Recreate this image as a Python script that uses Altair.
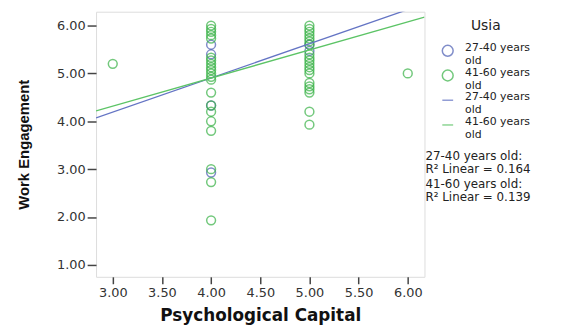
import altair as alt
import pandas as pd

# ---- data ----
groups = ["27-40 years old", "41-60 years old"]

young_pc = [4.0, 4.0, 4.0, 4.0, 5.0, 5.0]
young_we = [5.60, 5.40, 4.33, 2.93, 5.60, 5.47]

old_pc = [3.0,
          4.0, 4.0, 4.0, 4.0, 4.0, 4.0, 4.0, 4.0, 4.0, 4.0, 4.0,
          4.0, 4.0, 4.0, 4.0, 4.0, 4.0, 4.0, 4.0, 4.0, 4.0,
          5.0, 5.0, 5.0, 5.0, 5.0, 5.0, 5.0, 5.0, 5.0, 5.0,
          5.0, 5.0, 5.0, 5.0, 5.0, 5.0, 5.0, 5.0, 5.0, 5.0,
          6.0]
old_we = [5.20,
          6.00, 5.93, 5.87, 5.80, 5.73, 5.33, 5.27, 5.20, 5.13, 5.07, 5.00,
          4.93, 4.87, 4.60, 4.33, 4.20, 4.00, 3.80, 3.00, 2.73, 1.93,
          6.00, 5.93, 5.87, 5.80, 5.73, 5.67, 5.60, 5.40, 5.33, 5.27,
          5.20, 5.13, 5.07, 5.00, 4.80, 4.73, 4.67, 4.60, 4.20, 3.93,
          5.00]

fit_intercept = [2.05, 2.56]
fit_slope = [0.714, 0.586]
r_squared = [0.164, 0.139]

x_domain = [2.83, 6.17]
y_domain = [0.75, 6.29]
x_ticks = [3.0, 3.5, 4.0, 4.5, 5.0, 5.5, 6.0]
y_ticks = [1.0, 2.0, 3.0, 4.0, 5.0, 6.0]

# legend keys: points and fit lines share one legend
pt_keys = [g.replace("years ", "years|") for g in groups]
ln_keys = [k + " " for k in pt_keys]
keys = pt_keys + ln_keys
colors = ["#4b5db3", "#38b246", "#6474c4", "#5cc466"]
shapes = ["circle", "circle", "stroke", "stroke"]

pts = pd.DataFrame({
    "pc": young_pc + old_pc,
    "we": young_we + old_we,
    "leg": [pt_keys[0]] * len(young_pc) + [pt_keys[1]] * len(old_pc),
})

line_rows = []
for i in range(len(groups)):
    for xv in x_domain:
        line_rows.append({"pc": xv, "we": fit_intercept[i] + fit_slope[i] * xv,
                          "leg": ln_keys[i]})
lines_df = pd.DataFrame(line_rows)

xscale = alt.Scale(domain=x_domain, nice=False, zero=False)
yscale = alt.Scale(domain=y_domain, nice=False, zero=False)
cscale = alt.Scale(domain=keys, range=colors)
sscale = alt.Scale(domain=keys, range=shapes)

legend = alt.Legend(
    title="Usia", orient="none", legendX=349, legendY=7,
    titleFont="DejaVu Sans", titleFontSize=14, titleFontWeight="normal",
    titleColor="#222", titleAnchor="middle", titlePadding=12,
    labelFont="DejaVu Sans", labelFontSize=11, labelColor="#222",
    labelExpr="split(datum.label, '|')", labelOffset=11,
    labelBaseline="alphabetic",
    symbolSize=120, symbolStrokeWidth=1.5, rowPadding=0, padding=0,
)

xaxis = alt.Axis(
    values=x_ticks, format=".2f", title="Psychological Capital",
    titleFont="DejaVu Sans", titleFontSize=17, titleFontWeight="bold",
    titleColor="#111", titleX=166, titleY=39, titleBaseline="middle",
    labelFont="DejaVu Sans", labelFontSize=13, labelColor="#333",
    labelPadding=3, tickSize=7, tickWidth=1.5, tickColor="#444",
    domain=False, grid=False,
)
yaxis = alt.Axis(
    values=y_ticks, format=".2f", title="Work Engagement",
    titleFont="Liberation Sans", titleFontSize=15, titleFontWeight="bold",
    titleColor="#111", titleX=-73, titleY=134, titleBaseline="middle",
    titleAlign="center", titleAngle=270,
    labelFont="DejaVu Sans", labelFontSize=13, labelColor="#333",
    labelPadding=2, tickSize=9, tickWidth=1.5, tickColor="#444",
    domain=False, grid=False,
)

points = alt.Chart(pts).mark_point(filled=False, size=80, strokeWidth=1.5).encode(
    x=alt.X("pc:Q", scale=xscale, axis=xaxis),
    y=alt.Y("we:Q", scale=yscale, axis=yaxis),
    color=alt.Color("leg:N", scale=cscale, legend=legend),
    shape=alt.Shape("leg:N", scale=sscale, legend=legend),
)

fit_lines = alt.Chart(lines_df).mark_line(strokeWidth=1.3, clip=True).encode(
    x=alt.X("pc:Q", scale=xscale),
    y=alt.Y("we:Q", scale=yscale),
    color=alt.Color("leg:N", scale=cscale, legend=legend),
    detail="leg:N",
)

ann_layers = []
ann_y = [150, 178]
for i, g in enumerate(groups):
    df = pd.DataFrame({"t": [[f"{g}:", f"R\u00b2 Linear = {r_squared[i]:.3f}"]]})
    ann_layers.append(
        alt.Chart(df).mark_text(
            align="left", baseline="alphabetic", font="DejaVu Sans",
            fontSize=12, lineHeight=13.5, color="#222",
        ).encode(x=alt.value(333), y=alt.value(ann_y[i]), text="t")
    )

chart = alt.layer(points, fit_lines, *ann_layers).properties(
    width=332, height=268,
    autosize=alt.AutoSizeParams(type="none"),
    padding={"left": 89, "top": 2, "right": 138, "bottom": 50},
    background="white",
).configure_view(
    fill="#f0f0f0", stroke="#444", strokeWidth=1.5
).configure(
    style={"guide-label": {"lineHeight": 13.3}}
)

chart.save("out.html", embed_options={"renderer": "svg", "actions": False})
